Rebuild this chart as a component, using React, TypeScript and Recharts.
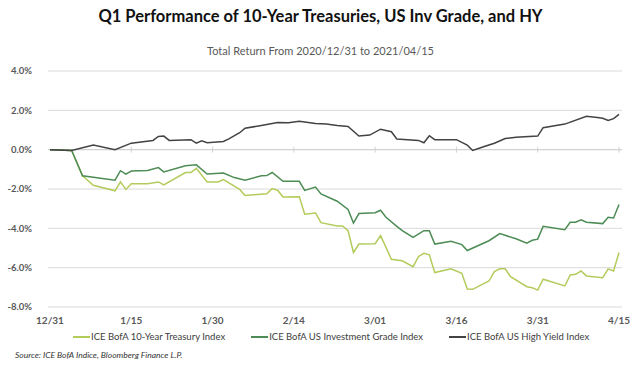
import { CartesianGrid, Line, LineChart, ReferenceLine, XAxis, YAxis } from "recharts";

// x = calendar days since 2020/12/31, y = total return in %
const treasuryDays = [0, 4, 6, 8, 12, 13, 14, 15, 18, 20, 21, 25, 26, 27, 29, 31, 32, 35, 36, 40, 41, 42, 43, 46, 47, 49, 50, 53, 54, 55, 56, 57, 60, 61, 63, 65, 67, 68, 69, 70, 71, 74, 76, 77, 78, 81, 82, 83, 84, 85, 88, 89, 90, 91, 95, 96, 97, 98, 99, 102, 103, 104, 105];
const treasuryValues = [0, -0.04, -1.33, -1.81, -2.09, -1.64, -2.02, -1.73, -1.73, -1.64, -1.79, -1.16, -1.16, -0.95, -1.64, -1.64, -1.52, -2.02, -2.33, -2.24, -1.98, -2.06, -2.41, -2.39, -3.28, -3.22, -3.71, -3.88, -3.88, -4.12, -5.23, -4.8, -4.78, -4.37, -5.57, -5.65, -5.95, -5.44, -5.27, -5.35, -6.25, -6.06, -6.29, -7.09, -7.1, -6.68, -6.2, -6.06, -6.06, -6.46, -6.97, -7.02, -7.14, -6.59, -6.93, -6.37, -6.34, -6.17, -6.42, -6.51, -6.06, -6.17, -5.23];

const igDays = [0, 4, 6, 12, 13, 14, 15, 18, 20, 21, 25, 27, 29, 32, 34, 36, 39, 40, 41, 43, 46, 47, 49, 50, 53, 55, 56, 57, 60, 61, 62, 64, 65, 67, 69, 70, 71, 74, 76, 77, 81, 83, 86, 88, 89, 90, 91, 95, 96, 97, 98, 99, 102, 103, 104, 105];
const igValues = [0, -0.04, -1.33, -1.55, -1.07, -1.24, -1.09, -1.06, -0.91, -1.13, -0.82, -0.77, -1.24, -1.19, -1.42, -1.55, -1.33, -1.32, -1.16, -1.61, -1.61, -2.07, -1.9, -2.25, -2.62, -3.04, -3.73, -3.25, -3.21, -3.08, -3.44, -3.9, -4.12, -4.46, -4.12, -4.12, -4.8, -4.66, -4.83, -5.13, -4.63, -4.27, -4.53, -4.75, -4.61, -4.55, -3.9, -4.07, -3.69, -3.69, -3.57, -3.69, -3.76, -3.44, -3.47, -2.79];

const hyDays = [0, 4, 8, 12, 15, 19, 20, 21, 22, 26, 27, 28, 29, 32, 33, 35, 36, 39, 42, 44, 46, 49, 51, 53, 55, 57, 59, 61, 63, 64, 68, 69, 70, 71, 75, 77, 78, 80, 82, 84, 86, 90, 91, 95, 99, 101, 102, 103, 104, 105];
const hyValues = [0, -0.04, 0.24, 0.0, 0.33, 0.47, 0.67, 0.69, 0.47, 0.51, 0.33, 0.45, 0.35, 0.42, 0.55, 0.86, 1.09, 1.23, 1.38, 1.37, 1.44, 1.33, 1.3, 1.23, 1.18, 0.69, 0.74, 1.04, 0.91, 0.54, 0.47, 0.35, 0.71, 0.51, 0.51, 0.23, -0.04, 0.15, 0.33, 0.57, 0.63, 0.69, 1.12, 1.3, 1.7, 1.63, 1.6, 1.49, 1.58, 1.79];

const xTicks = [0, 15, 30, 45, 60, 75, 90, 105];
const xTickLabels = ["12/31", "1/15", "1/30", "2/14", "3/01", "3/16", "3/31", "4/15"];
const yTicks = [-8, -6, -4, -2, 0, 2, 4];

const series = [
  { name: "ICE BofA 10-Year Treasury Index", color: "#b3cb5b", days: treasuryDays, values: treasuryValues },
  { name: "ICE BofA US Investment Grade Index", color: "#4d8c55", days: igDays, values: igValues },
  { name: "ICE BofA US High Yield Index", color: "#434343", days: hyDays, values: hyValues },
];

const font = "Lato, 'Open Sans', sans-serif";

export default function App() {
  return (
    <div style={{ position: "absolute", left: 0, top: 0, width: 641, height: 375, background: "#fff", fontFamily: font }}>
      <div style={{ position: "absolute", top: 6, width: 641, textAlign: "center", fontSize: 16.5, fontWeight: 700, color: "#111" }}>
        Q1 Performance of 10-Year Treasuries, US Inv Grade, and HY
      </div>
      <div style={{ position: "absolute", top: 44, width: 641, textAlign: "center", fontSize: 11, color: "#595959" }}>
        Total Return From 2020/12/31 to 2021/04/15
      </div>
      <LineChart width={641} height={375} margin={{ top: 71, right: 19, bottom: 48, left: 0 }}>
        <CartesianGrid vertical={false} stroke="#dadada" />
        <XAxis
          type="number"
          dataKey="d"
          domain={[0, 105]}
          ticks={xTicks}
          tickFormatter={(v: number) => xTickLabels[xTicks.indexOf(v)]}
          padding={{ left: 2, right: 3 }}
          axisLine={false}
          tickLine={false}
          tickMargin={4}
          height={20}
          tick={{ fontSize: 10, fontWeight: 700, fill: "#595959", fontFamily: font }}
        />
        <YAxis
          domain={[-8, 4]}
          ticks={yTicks}
          width={48}
          axisLine={false}
          tickLine={false}
          tickMargin={10}
          tickFormatter={(v: number) => `${v.toFixed(1)}%`}
          tick={{ fontSize: 9.5, fontWeight: 700, fill: "#595959", fontFamily: font }}
        />
        <ReferenceLine y={0} stroke="#d0d0d0" />
        {xTicks.slice(1).map((t) => (
          <ReferenceLine
            key={t}
            segment={[{ x: t, y: -0.15 }, { x: t, y: 0.15 }]}
            stroke="#d0d0d0"
          />
        ))}
        {series.map((s) => (
          <Line
            key={s.name}
            data={s.days.map((d, i) => ({ d, v: s.values[i] }))}
            dataKey="v"
            type="linear"
            stroke={s.color}
            strokeWidth={1.5}
            dot={false}
            isAnimationActive={false}
          />
        ))}
      </LineChart>
      <div style={{ position: "absolute", top: 331, left: 73, display: "flex", fontSize: 9.5, color: "#404040" }}>
        {series.map((s, i) => (
          <div key={s.name} style={{ display: "flex", alignItems: "center", marginRight: i < 2 ? 26 : 0 }}>
            <span style={{ display: "inline-block", width: 17, height: 2, background: s.color, marginRight: 1 }} />
            <span>{s.name}</span>
          </div>
        ))}
      </div>
      <div style={{ position: "absolute", top: 350, left: 15, fontSize: 8.5, fontStyle: "italic", color: "#333" }}>
        Source: ICE BofA Indice, Bloomberg Finance L.P.
      </div>
    </div>
  );
}
